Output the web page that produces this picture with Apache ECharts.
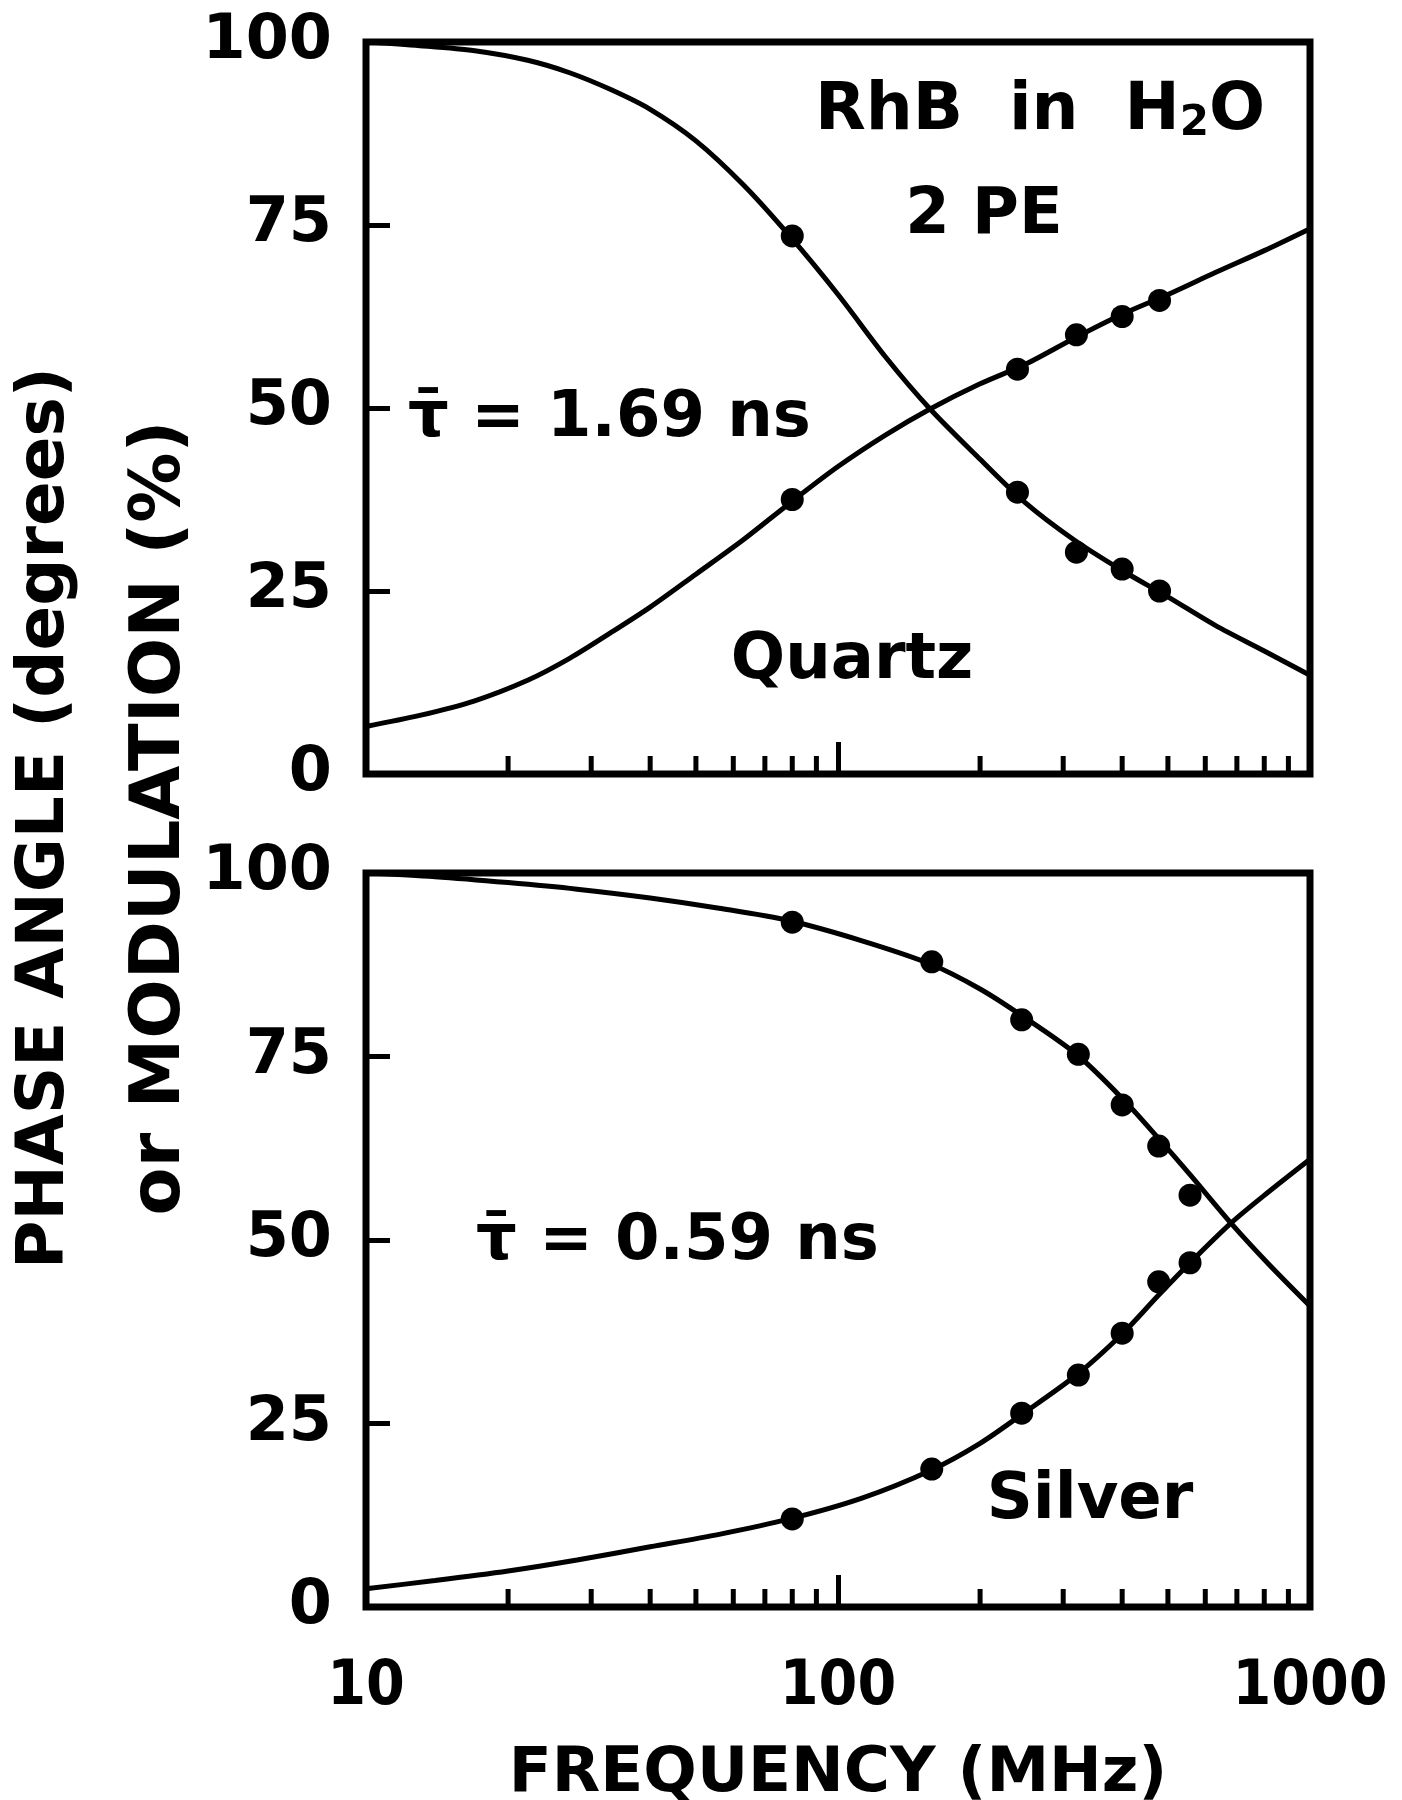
<!DOCTYPE html>
<html><head><meta charset="utf-8">
<script src="https://cdn.jsdelivr.net/npm/echarts@6/dist/echarts.min.js"></script>
<style>html,body{margin:0;padding:0;background:#fff}#c{width:1402px;height:1800px}</style>
</head><body><div id="c"></div>
<script>
// ---- data ----
const yTickValues = [0, 25, 50, 75, 100];
const xTickLabels = [10, 100, 1000];
const minorTickFreq = [20, 30, 40, 50, 60, 70, 80, 90, 200, 300, 400, 500, 600, 700, 800, 900];

// Top panel (Quartz, tau = 1.69 ns)
const topCurveFreq  = [10, 13, 17, 22, 27, 33, 40, 50, 63, 79, 100, 126, 156, 200, 250, 316, 400, 500, 630, 800, 1000];
const topModCurve   = [100, 99.5, 98.8, 97.5, 95.8, 93.5, 90.8, 86.5, 80.5, 73.5, 65.5, 57, 50, 43, 37, 32, 27.8, 24.2, 20.3, 16.8, 13.5];
const topPhaseCurve = [6.5, 8, 10, 12.8, 15.8, 19.3, 22.8, 27.3, 32, 37, 42, 46.3, 49.8, 53.3, 56, 59.5, 62.8, 65.5, 68.5, 71.5, 74.5];
const topPointFreq  = [80, 240, 320, 400, 480];
const topPointMod   = [73.5, 38.5, 30.3, 28, 25];
const topPointPhase = [37.5, 55.3, 60, 62.5, 64.7];

// Bottom panel (Silver, tau = 0.59 ns)
const botCurveFreq  = [10, 14, 20, 28, 40, 56, 79, 112, 157, 200, 246, 320, 400, 478, 557, 680, 815, 1000];
const botModCurve   = [100, 99.5, 98.7, 97.8, 96.6, 95.2, 93.5, 90.8, 87.6, 84.2, 80.5, 75.3, 69.3, 63.8, 58.9, 52.3, 46.8, 41];
const botPhaseCurve = [2.5, 3.6, 4.9, 6.4, 8.2, 9.9, 12, 14.8, 18.6, 22.3, 26.3, 31.6, 37.2, 42.5, 46.9, 52.3, 56.5, 61];
const botPointFreq  = [80, 158, 245, 323, 400, 478, 557];
const botPointMod   = [93.3, 87.9, 80, 75.3, 68.4, 62.8, 56.1];
const botPointPhase = [12, 18.8, 26.4, 31.6, 37.3, 44.3, 46.9];

// ---- chart ----
const zip = (xs, ys) => xs.map((x, i) => [x, ys[i]]);
const FONT = "'DejaVu Sans', sans-serif";
const NARROW = "'DejaVu Sans Condensed', 'DejaVu Sans', sans-serif";

function xAxisCfg(gridIndex, showLabels) {
  return {
    type: 'log', logBase: 10, min: 10, max: 1000, gridIndex,
    axisLine: { show: false },
    axisTick: { show: true, inside: true, length: 32, lineStyle: { color: '#000', width: 5 } },
    splitLine: { show: false },
    axisLabel: {
      show: showLabels, margin: 50, color: '#000', fontFamily: NARROW, fontWeight: 'bold', fontSize: 62,
      formatter: v => (xTickLabels.indexOf(Math.round(v)) >= 0 ? String(Math.round(v)) : '')
    }
  };
}
function yAxisCfg(gridIndex) {
  return {
    type: 'value', min: yTickValues[0], max: yTickValues[yTickValues.length - 1], interval: 25, gridIndex,
    axisLine: { show: false },
    axisTick: { show: true, inside: true, length: 24, lineStyle: { color: '#000', width: 5 } },
    splitLine: { show: false },
    axisLabel: { margin: 34, color: '#000', fontFamily: FONT, fontWeight: 'bold', fontSize: 62 }
  };
}
function lineSeries(idx, data) {
  return { type: 'line', xAxisIndex: idx, yAxisIndex: idx, data, smooth: 0.3, showSymbol: false,
    lineStyle: { color: '#000', width: 5 }, silent: true, z: 3 };
}
function pointSeries(idx, data) {
  return { type: 'scatter', xAxisIndex: idx, yAxisIndex: idx, data, symbol: 'circle', symbolSize: 23,
    itemStyle: { color: '#000', opacity: 1 }, silent: true, z: 4 };
}
function minorTicks(idx) {
  return {
    type: 'custom', xAxisIndex: idx, yAxisIndex: idx, clip: false, silent: true, z: 5,
    data: minorTickFreq.map(f => [f, 0]),
    renderItem: (params, api) => {
      const p = api.coord([api.value(0), api.value(1)]);
      return { type: 'line', shape: { x1: p[0], y1: p[1], x2: p[0], y2: p[1] - 18 },
        style: { stroke: '#000', lineWidth: 5 } };
    }
  };
}
const gridStyle = { show: true, borderColor: '#000', borderWidth: 7, backgroundColor: 'transparent', containLabel: false };

const txt = (x, y, text, size, extra) => ({
  type: 'text', x, y, silent: true,
  style: Object.assign({ text, fill: '#000', fontFamily: FONT, fontWeight: 'bold', fontSize: size,
    align: 'center', verticalAlign: 'middle' }, extra || {})
});

const option = {
  backgroundColor: '#fff',
  animation: false,
  grid: [
    Object.assign({ left: 366, top: 42, width: 944, height: 732 }, gridStyle),
    Object.assign({ left: 366, top: 873, width: 944, height: 734 }, gridStyle)
  ],
  xAxis: [xAxisCfg(0, false), xAxisCfg(1, true)],
  yAxis: [yAxisCfg(0), yAxisCfg(1)],
  series: [
    lineSeries(0, zip(topCurveFreq, topModCurve)),
    lineSeries(0, zip(topCurveFreq, topPhaseCurve)),
    pointSeries(0, zip(topPointFreq, topPointMod)),
    pointSeries(0, zip(topPointFreq, topPointPhase)),
    minorTicks(0),
    lineSeries(1, zip(botCurveFreq, botModCurve)),
    lineSeries(1, zip(botCurveFreq, botPhaseCurve)),
    pointSeries(1, zip(botPointFreq, botPointMod)),
    pointSeries(1, zip(botPointFreq, botPointPhase)),
    minorTicks(1)
  ],
  graphic: [
    { type: 'text', x: 1040, y: 112, silent: true,
      style: { text: 'RhB  in  H{sub|2}O', fill: '#000', fontFamily: FONT, fontWeight: 'bold', fontSize: 66,
        align: 'center', verticalAlign: 'middle',
        rich: { sub: { fontFamily: FONT, fontWeight: 'bold', fontSize: 42, verticalAlign: 'bottom', padding: [24, 0, 0, 0] } } } },
    txt(984, 216, '2 PE', 64),
    txt(408, 419, 'τ\u0304 = 1.69 ns', 64, { align: 'left' }),
    txt(852, 661, 'Quartz', 64),
    txt(476, 1242, 'τ\u0304 = 0.59 ns', 64, { align: 'left' }),
    txt(1090, 1501, 'Silver', 64),
    txt(838, 1775, 'FREQUENCY (MHz)', 63),
    Object.assign(txt(46, 818, 'PHASE ANGLE (degrees)', 66), { rotation: Math.PI / 2 }),
    Object.assign(txt(161, 818, 'or MODULATION (%)', 70), { rotation: Math.PI / 2 })
  ]
};
const chart = echarts.init(document.getElementById('c'), null, { renderer: 'canvas' });
chart.setOption(option);
</script></body></html>
